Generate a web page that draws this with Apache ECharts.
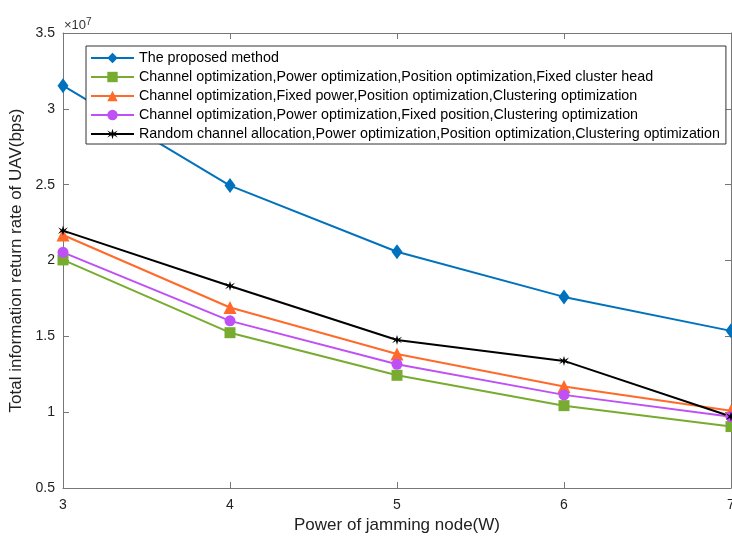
<!DOCTYPE html>
<html>
<head>
<meta charset="utf-8">
<script src="https://cdn.jsdelivr.net/npm/echarts@6/dist/echarts.min.js"></script>
<style>
  html, body { margin: 0; padding: 0; background: #fff; }
  #chart { width: 732px; height: 536px; }
</style>
</head>
<body>
<div id="chart"></div>
<script>
  // jamming power (W)
  const powers = [3, 4, 5, 6, 7];
  // rates in units of 1e7 bps
  const proposed = [3.153, 2.494, 2.058, 1.760, 1.536];
  const fixedHead = [2.004, 1.524, 1.243, 1.043, 0.905];
  const fixedPower = [2.168, 1.690, 1.384, 1.169, 1.010];
  const fixedPos = [2.054, 1.602, 1.316, 1.114, 0.970];
  const randomChan = [2.197, 1.832, 1.476, 1.338, 0.971];
  const yTicks = [0.5, 1, 1.5, 2, 2.5, 3, 3.5];

  const names = [
    'The proposed method',
    'Channel optimization,Power optimization,Position optimization,Fixed cluster head',
    'Channel optimization,Fixed power,Position optimization,Clustering optimization',
    'Channel optimization,Power optimization,Fixed position,Clustering optimization',
    'Random channel allocation,Power optimization,Position optimization,Clustering optimization'
  ];

  // asterisk marker
  const star = 'path://M9,0L11,7L18,3L13,9L18,15L11,11L9,18L7,11L0,15L5,9L0,3L7,7Z';

  const pairs = arr => arr.map((v, i) => [powers[i], v]);
  const font = 'Liberation Sans, Arial, Helvetica, sans-serif';
  const axisGrey = '#777';

  function mk(name, data, color, symbol, size) {
    return {
      name: name,
      type: 'line',
      data: pairs(data),
      symbol: symbol,
      symbolSize: size,
      clip: false,
      lineStyle: { color: color, width: 2 },
      itemStyle: { color: color },
      emphasis: { disabled: true },
      animation: false
    };
  }

  const chart = echarts.init(document.getElementById('chart'));
  chart.setOption({
    textStyle: { fontFamily: font },
    grid: { left: 63, right: 1, top: 33, bottom: 48, outerBoundsMode: 'none', containLabel: false },
    legend: {
      orient: 'vertical',
      left: 86,
      top: 46,
      backgroundColor: '#fff',
      borderColor: '#333',
      borderWidth: 1,
      borderRadius: 0,
      padding: [5, 6, 3, 4],
      itemWidth: 43,
      itemHeight: 13,
      itemGap: 5,
      textStyle: { fontSize: 14.3, color: '#000', fontFamily: font },
      data: names
    },
    graphic: [{
      type: 'text',
      left: 64,
      top: 17,
      style: {
        text: '×10{s|7}',
        fontSize: 13,
        fill: '#333',
        fontFamily: font,
        rich: { s: { fontSize: 10, verticalAlign: 'top', padding: [0, 0, 6, 0] } }
      }
    }],
    xAxis: [{
      type: 'value',
      min: 3, max: 7, interval: 1,
      name: 'Power of jamming node(W)',
      nameLocation: 'middle',
      nameGap: 23,
      nameTextStyle: { fontSize: 17, color: '#222' },
      axisLine: { lineStyle: { color: axisGrey } },
      axisTick: { inside: true, length: 6, lineStyle: { color: axisGrey } },
      axisLabel: { fontSize: 14, color: '#222', margin: 10 },
      splitLine: { show: false }
    }, {
      type: 'value', position: 'top',
      min: 3, max: 7, interval: 1,
      axisLine: { show: true, lineStyle: { color: axisGrey } },
      axisTick: { show: true, inside: true, length: 6, lineStyle: { color: axisGrey } },
      axisLabel: { show: false },
      splitLine: { show: false }
    }],
    yAxis: [{
      type: 'value',
      min: yTicks[0], max: yTicks[yTicks.length - 1], interval: 0.5,
      name: 'Total information return rate of UAV(bps)',
      nameLocation: 'middle',
      nameGap: 31,
      nameTextStyle: { fontSize: 17, color: '#222' },
      axisLine: { show: true, lineStyle: { color: axisGrey } },
      axisTick: { show: true, inside: true, length: 6, lineStyle: { color: axisGrey } },
      axisLabel: { fontSize: 14, color: '#222', margin: 8 },
      splitLine: { show: false }
    }, {
      type: 'value', position: 'right',
      min: yTicks[0], max: yTicks[yTicks.length - 1], interval: 0.5,
      axisLine: { show: true, lineStyle: { color: axisGrey } },
      axisTick: { show: true, inside: true, length: 6, lineStyle: { color: axisGrey } },
      axisLabel: { show: false },
      splitLine: { show: false }
    }],
    series: [
      mk(names[0], proposed, '#0072BD', 'diamond', [11, 15]),
      mk(names[1], fixedHead, '#77AC30', 'rect', 11),
      mk(names[2], fixedPower, '#FF6A2A', 'triangle', 13),
      mk(names[3], fixedPos, '#BF50F5', 'circle', 11),
      mk(names[4], randomChan, '#000000', star, 10)
    ]
  });
</script>
</body>
</html>
